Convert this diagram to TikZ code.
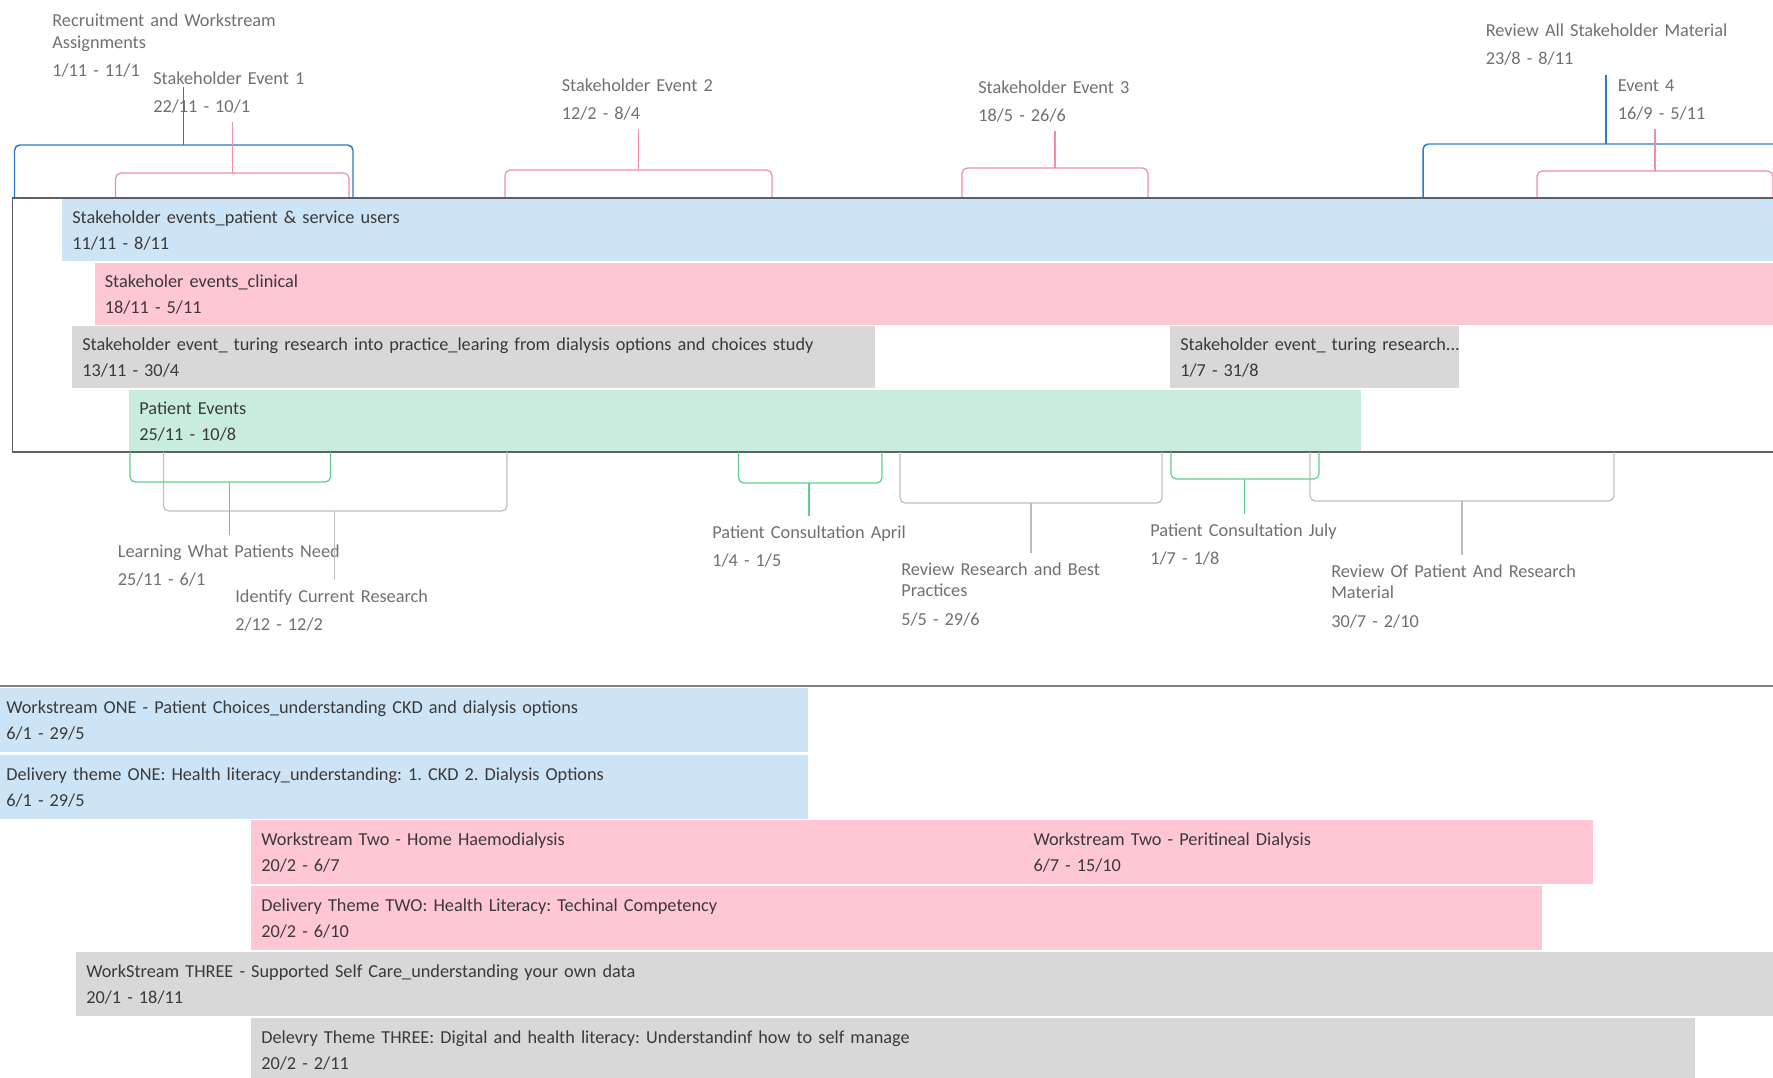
\documentclass[tikz,border=0pt]{standalone}
\usepackage{fontspec}
\setmainfont{Carlito}
\frenchspacing
\usetikzlibrary{positioning}
\definecolor{ink}{RGB}{58,58,58}
\definecolor{tagink}{RGB}{112,112,112}
\definecolor{frame}{RGB}{96,96,96}
\definecolor{skyfill}{RGB}{205,228,247}
\definecolor{rosefill}{RGB}{255,198,212}
\definecolor{ashfill}{RGB}{216,216,216}
\definecolor{mintfill}{RGB}{200,237,220}
\definecolor{skyline}{RGB}{43,122,208}
\definecolor{roseline}{RGB}{244,140,165}
\definecolor{ashline}{RGB}{190,190,190}
\definecolor{mintline}{RGB}{96,204,148}
\tikzset{
  topbar/.style={anchor=north west,minimum height=1.24cm,inner xsep=0.2cm,
    inner ysep=0pt,align=left,text=ink,font=\fontsize{10.4}{14.8}\selectfont},
  lowbar/.style={topbar,minimum height=1.28cm},
  tag/.style={anchor=base west,inner xsep=0pt,inner ysep=0.18cm,text width=6cm,
    align=left,text=tagink,font=\fontsize{10.4}{12.5}\selectfont},
  brace/.style={line width=0.7pt,rounded corners=3pt},
  skybrace/.style={brace,skyline,line width=0.85pt},
  rosebrace/.style={brace,roseline},
  mintbrace/.style={brace,mintline},
  ashbrace/.style={brace,ashline}
}

\begin{document}
\begin{tikzpicture}
  \useasboundingbox (0,0) rectangle (35.46,-21.56);
  \clip (0,0) rectangle (35.46,-21.56);

  % milestones above the stakeholder box
  \node[tag] (rec) at (1.04,-0.53) {Recruitment and Workstream\\Assignments\\[3.5pt]1/11 - 11/1};
  \node[tag] (ev1) at (3.06,-1.68) {Stakeholder Event 1\\[3.5pt]22/11 - 10/1};
  \node[tag] (ev2) at (11.23,-1.82) {Stakeholder Event 2\\[3.5pt]12/2 - 8/4};
  \node[tag] (ev3) at (19.56,-1.86) {Stakeholder Event 3\\[3.5pt]18/5 - 26/6};
  \node[tag] (revall) at (29.71,-0.73) {Review All Stakeholder Material\\[3.5pt]23/8 - 8/11};
  \node[tag] (ev4) at (32.35,-1.82) {Event 4\\[3.5pt]16/9 - 5/11};

  \coordinate (rec-m) at (3.675,-2.90);
  \coordinate (ev1-m) at (4.645,-3.46);
  \coordinate (ev2-m) at (12.77,-3.40);
  \coordinate (ev3-m) at (21.10,-3.36);
  \coordinate (revall-m) at (32.12,-2.88);
  \coordinate (ev4-m) at (33.10,-3.42);
  \draw[skybrace] (0.29,-3.96) |- (rec-m) -| (7.06,-3.96);
  \draw[skybrace] (rec-m) -- (rec-m |- rec.south);
  \draw[rosebrace] (2.31,-3.96) |- (ev1-m) -| (6.98,-3.96);
  \draw[rosebrace] (ev1-m) -- (ev1-m |- ev1.south);
  \draw[rosebrace] (10.10,-3.96) |- (ev2-m) -| (15.44,-3.96);
  \draw[rosebrace] (ev2-m) -- (ev2-m |- ev2.south);
  \draw[rosebrace] (19.24,-3.96) |- (ev3-m) -| (22.96,-3.96);
  \draw[rosebrace] (ev3-m) -- (ev3-m |- ev3.south);
  \draw[skybrace] (28.46,-3.96) |- (revall-m) -| (35.78,-3.96);
  \draw[skybrace] (revall-m) -- (revall-m |- revall.south);
  \draw[rosebrace] (30.74,-3.96) |- (ev4-m) -| (35.46,-3.96);
  \draw[rosebrace] (ev4-m) -- (ev4-m |- ev4.south);

  % stakeholder box
  \node[topbar,fill=skyfill,text width=34.36cm] (patbar) at (1.24,-3.98)
    {Stakeholder events\_patient \& service users\\11/11 - 8/11};
  \node[topbar,fill=rosefill,text width=33.71cm] (clinbar) at (1.89,-5.26)
    {Stakeholer events\_clinical\\18/11 - 5/11};
  \node[topbar,fill=ashfill,text width=15.65cm] (turbar) at (1.44,-6.52)
    {Stakeholder event\_ turing research into practice\_learing from dialysis options and choices study\\13/11 - 30/4};
  \node[topbar,fill=ashfill,text width=5.38cm] (turbarb) at (23.40,-6.52)
    {\mbox{Stakeholder event\_ turing research...}\\1/7 - 31/8};
  \node[topbar,fill=mintfill,text width=24.24cm] (patev) at (2.58,-7.80)
    {Patient Events\\25/11 - 10/8};
  \draw[frame,line width=0.9pt] (0.25,-3.96) rectangle (36,-9.04);

  % milestones below the stakeholder box
  \node[tag] (learn) at (2.35,-11.14) {Learning What Patients Need\\[3.5pt]25/11 - 6/1};
  \node[tag] (ident) at (4.70,-12.04) {Identify Current Research\\[3.5pt]2/12 - 12/2};
  \node[tag] (april) at (14.24,-10.76) {Patient Consultation April\\[3.5pt]1/4 - 1/5};
  \node[tag] (rrbp) at (18.02,-11.50) {Review Research and Best\\Practices\\[3.5pt]5/5 - 29/6};
  \node[tag] (july) at (23.00,-10.72) {Patient Consultation July\\[3.5pt]1/7 - 1/8};
  \node[tag] (ropr) at (26.62,-11.54) {Review Of Patient And Research\\Material\\[3.5pt]30/7 - 2/10};

  \coordinate (learn-m) at (4.59,-9.64);
  \coordinate (ident-m) at (6.69,-10.22);
  \coordinate (april-m) at (16.18,-9.66);
  \coordinate (rrbp-m) at (20.62,-10.06);
  \coordinate (july-m) at (24.89,-9.58);
  \coordinate (ropr-m) at (29.24,-10.02);
  \draw[ashbrace] (3.27,-9.04) |- (ident-m) -| (10.14,-9.04);
  \draw[ashbrace] (ident-m) -- (ident-m |- ident.north);
  \draw[mintbrace] (2.60,-9.04) |- (learn-m) -| (6.61,-9.04);
  \draw[mintbrace] (learn-m) -- (learn-m |- learn.north);
  \draw[mintbrace] (14.77,-9.04) |- (april-m) -| (17.64,-9.04);
  \draw[mintbrace] (april-m) -- (april-m |- april.north);
  \draw[ashbrace] (18.00,-9.04) |- (rrbp-m) -| (23.24,-9.04);
  \draw[ashbrace] (rrbp-m) -- (rrbp-m |- rrbp.north);
  \draw[ashbrace] (26.20,-9.04) |- (ropr-m) -| (32.28,-9.04);
  \draw[ashbrace] (ropr-m) -- (ropr-m |- ropr.north);
  \draw[mintbrace] (23.42,-9.04) |- (july-m) -| (26.38,-9.04);
  \draw[mintbrace] (july-m) -- (july-m |- july.north);

  % workstreams
  \draw[frame!80,line width=1pt] (0,-13.72) -- (35.46,-13.72);
  \node[lowbar,fill=skyfill,text width=15.84cm] (ws1) at (-0.08,-13.76)
    {Workstream ONE - Patient Choices\_understanding CKD and dialysis options\\6/1 - 29/5};
  \node[lowbar,fill=skyfill,text width=15.84cm,below=0.04cm of ws1] (dt1)
    {Delivery theme ONE: Health literacy\_understanding: 1. CKD 2. Dialysis Options\\6/1 - 29/5};
  \node[lowbar,fill=rosefill,text width=15.05cm] (ws2a) at (5.02,-16.40)
    {Workstream Two - Home Haemodialysis\\20/2 - 6/7};
  \node[lowbar,fill=rosefill,text width=10.99cm,right=-0.6pt of ws2a] (ws2b)
    {Workstream Two - Peritineal Dialysis\\6/7 - 15/10};
  \node[lowbar,fill=rosefill,text width=25.41cm] (dt2) at (5.02,-17.72)
    {Delivery Theme TWO: Health Literacy: Techinal Competency\\20/2 - 6/10};
  \node[lowbar,fill=ashfill,text width=34.08cm] (ws3) at (1.52,-19.04)
    {WorkStream THREE - Supported Self Care\_understanding your own data\\20/1 - 18/11};
  \node[lowbar,fill=ashfill,text width=28.48cm] (dt3) at (5.02,-20.36)
    {Delevry Theme THREE: Digital and health literacy: Understandinf how to self manage\\20/2 - 2/11};
\end{tikzpicture}
\end{document}
